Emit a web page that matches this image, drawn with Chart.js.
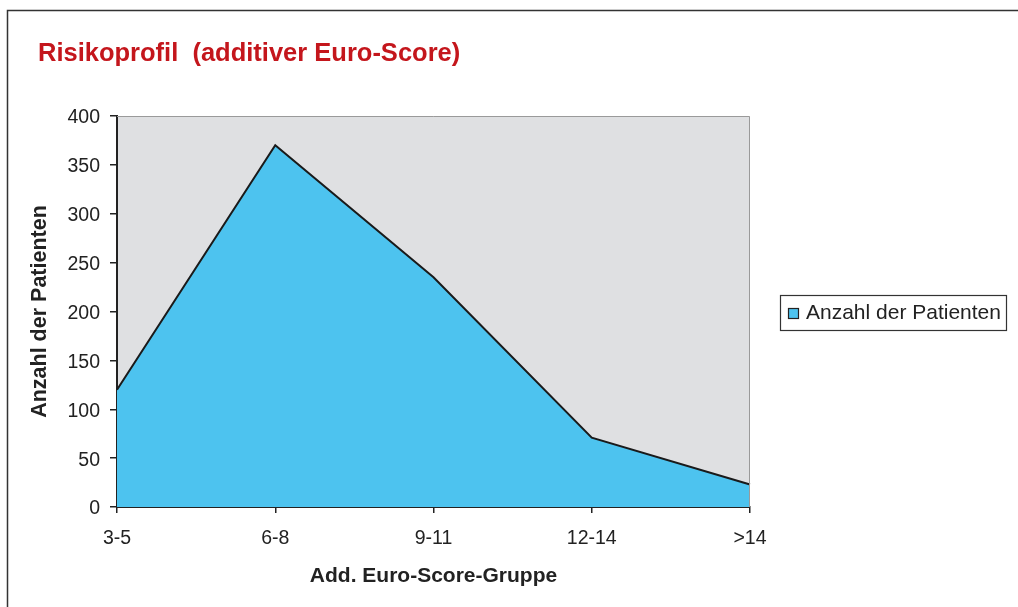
<!DOCTYPE html>
<html>
<head>
<meta charset="utf-8">
<title>Risikoprofil</title>
<script src="https://cdn.jsdelivr.net/npm/chart.js@4/dist/chart.umd.min.js"></script>
<style>
  html, body { margin: 0; padding: 0; background: #fff; }
  #wrap { width: 1018px; height: 607px; position: relative; }
</style>
</head>
<body>
<div id="wrap"><canvas id="chart"></canvas></div>
<script>
// data
const categories = ["3-5", "6-8", "9-11", "12-14", ">14"];
const patients = [120, 370, 235, 71, 23];
const yTicks = [0, 50, 100, 150, 200, 250, 300, 350, 400];

const seriesLabel = "Anzahl der Patienten";
const titleText = "Risikoprofil  (additiver Euro-Score)";
const fam = '"Liberation Sans", Arial, Helvetica, sans-serif';
const ink = "#222";
const blue = "#4dc3ef";

// frame, plot background, title and legend
const decor = {
  id: "decor",
  beforeDraw(chart) {
    const { ctx, chartArea: a } = chart;
    ctx.save();
    ctx.fillStyle = "#dfe0e2";
    ctx.fillRect(a.left, a.top, a.right - a.left, a.bottom - a.top);
    ctx.restore();
  },
  afterDraw(chart) {
    const { ctx, chartArea: a } = chart;
    ctx.save();
    // outer frame (top + left only)
    ctx.strokeStyle = "#333";
    ctx.lineWidth = 1.5;
    ctx.beginPath();
    ctx.moveTo(7.5, 607);
    ctx.lineTo(7.5, 10.5);
    ctx.lineTo(1018, 10.5);
    ctx.stroke();

    // plot border top/right
    ctx.strokeStyle = "#9a9a9a";
    ctx.lineWidth = 1;
    ctx.beginPath();
    ctx.moveTo(a.left, a.top + 0.5);
    ctx.lineTo(a.right - 0.5, a.top + 0.5);
    ctx.lineTo(a.right - 0.5, a.bottom);
    ctx.stroke();

    // title
    ctx.fillStyle = "#c4161c";
    ctx.font = "bold 25.5px " + fam;
    ctx.textBaseline = "alphabetic";
    ctx.textAlign = "left";
    ctx.fillText(titleText, 38, 61);

    // legend
    ctx.strokeStyle = "#333";
    ctx.lineWidth = 1.2;
    ctx.strokeRect(780.5, 295.5, 226, 35);
    ctx.fillStyle = blue;
    ctx.fillRect(788.5, 308.5, 10, 10);
    ctx.strokeStyle = ink;
    ctx.strokeRect(788.5, 308.5, 10, 10);
    ctx.fillStyle = ink;
    ctx.font = "21px " + fam;
    ctx.textBaseline = "middle";
    ctx.fillText(chart.data.datasets[0].label, 806, 313);
    ctx.restore();
  }
};

new Chart(document.getElementById("chart"), {
  type: "line",
  data: {
    labels: categories,
    datasets: [{
      label: seriesLabel,
      data: patients,
      fill: "origin",
      backgroundColor: blue,
      borderColor: "#1a1a1a",
      borderWidth: 2,
      pointRadius: 0,
      tension: 0
    }]
  },
  options: {
    responsive: true,
    maintainAspectRatio: false,
    animation: false,
    layout: { padding: { top: 116, right: 268, left: 0, bottom: 0 } },
    plugins: { legend: { display: false }, tooltip: { enabled: false } },
    scales: {
      x: {
        offset: false,
        grid: { drawOnChartArea: false, tickLength: 6, color: ink, lineWidth: 1.5 },
        border: { color: ink, width: 2 },
        ticks: { color: ink, font: { family: fam, size: 19.5 }, padding: 14, maxRotation: 0 },
        title: {
          display: true, text: "Add. Euro-Score-Gruppe", color: ink,
          font: { family: fam, size: 21, weight: "bold" }, padding: { top: 0, bottom: 18 }
        },
        afterFit(s) { s.height = 100; }
      },
      y: {
        min: 0, max: 400,
        afterBuildTicks(s) { s.ticks = yTicks.map(v => ({ value: v })); },
        grid: { drawOnChartArea: false, tickLength: 7, color: ink, lineWidth: 1.5 },
        border: { color: ink, width: 2 },
        ticks: { color: ink, font: { family: fam, size: 19.5 }, padding: 10, labelOffset: 2 },
        title: {
          display: true, text: seriesLabel, color: ink,
          font: { family: fam, size: 21.5, weight: "bold" }, padding: { top: 27, bottom: 0 }
        },
        afterFit(s) { s.width = 117; }
      }
    }
  },
  plugins: [decor]
});
</script>
</body>
</html>
